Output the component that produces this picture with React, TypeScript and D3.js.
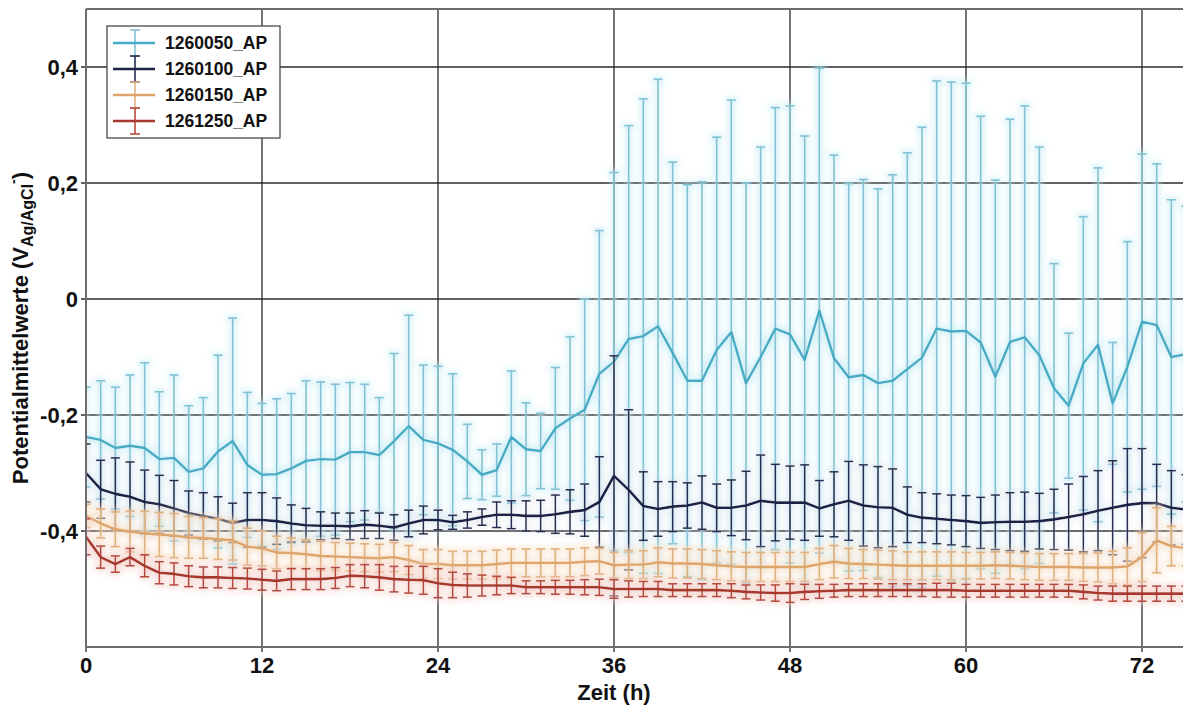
import React from 'react';
import * as d3 from 'd3';

// Hourly measurement times (h)
const hours = [
  0, 1, 2, 3, 4, 5, 6, 7, 8, 9, 10, 11, 12, 13, 14, 15, 16, 17, 18, 19,
  20, 21, 22, 23, 24, 25, 26, 27, 28, 29, 30, 31, 32, 33, 34, 35, 36, 37, 38, 39,
  40, 41, 42, 43, 44, 45, 46, 47, 48, 49, 50, 51, 52, 53, 54, 55, 56, 57, 58, 59,
  60, 61, 62, 63, 64, 65, 66, 67, 68, 69, 70, 71, 72, 73, 74, 75,
];

// 1260050_AP: mean potential and standard deviation (V)
const mean1260050 = [
  -0.238, -0.243, -0.257, -0.253, -0.257, -0.276, -0.274, -0.298, -0.292, -0.263,
  -0.245, -0.286, -0.303, -0.302, -0.292, -0.279, -0.276, -0.277, -0.264, -0.264,
  -0.269, -0.245, -0.219, -0.243, -0.249, -0.26, -0.28, -0.303, -0.295, -0.238,
  -0.259, -0.262, -0.223, -0.206, -0.191, -0.129, -0.108, -0.069, -0.064, -0.047,
  -0.093, -0.141, -0.141, -0.088, -0.057, -0.145, -0.1, -0.051, -0.061, -0.105,
  -0.02, -0.102, -0.135, -0.131, -0.145, -0.141, -0.121, -0.101, -0.051, -0.056,
  -0.055, -0.075, -0.134, -0.074, -0.066, -0.097, -0.154, -0.184, -0.111, -0.079,
  -0.18, -0.117, -0.039, -0.045, -0.1, -0.095,
];
const sd1260050 = [
  0.086, 0.102, 0.105, 0.122, 0.147, 0.116, 0.143, 0.114, 0.122, 0.166,
  0.212, 0.125, 0.123, 0.13, 0.129, 0.138, 0.133, 0.13, 0.12, 0.117,
  0.099, 0.151, 0.191, 0.129, 0.133, 0.131, 0.064, 0.043, 0.045, 0.114,
  0.08, 0.065, 0.105, 0.141, 0.191, 0.247, 0.326, 0.368, 0.409, 0.426,
  0.329, 0.338, 0.343, 0.367, 0.4, 0.345, 0.362, 0.381, 0.394, 0.386,
  0.418, 0.35, 0.334, 0.337, 0.335, 0.355, 0.373, 0.397, 0.427, 0.43,
  0.427, 0.39, 0.339, 0.384, 0.399, 0.359, 0.215, 0.125, 0.253, 0.305,
  0.105, 0.216, 0.289, 0.278, 0.271, 0.255,
];

// 1260100_AP
const mean1260100 = [
  -0.3, -0.328, -0.336, -0.341, -0.35, -0.354, -0.361, -0.369, -0.374, -0.379,
  -0.386, -0.381, -0.381, -0.383, -0.387, -0.39, -0.391, -0.391, -0.392, -0.389,
  -0.391, -0.394, -0.387, -0.381, -0.381, -0.385, -0.381, -0.376, -0.372, -0.372,
  -0.374, -0.374, -0.371, -0.367, -0.364, -0.35, -0.305, -0.329, -0.357, -0.362,
  -0.358, -0.356, -0.351, -0.36, -0.36, -0.356, -0.348, -0.351, -0.351, -0.351,
  -0.361, -0.354, -0.348, -0.356, -0.359, -0.36, -0.372, -0.377, -0.379, -0.381,
  -0.383, -0.386, -0.385, -0.384, -0.384, -0.383, -0.38, -0.376, -0.371, -0.365,
  -0.36, -0.355, -0.352, -0.352, -0.36, -0.363,
];
const sd1260100 = [
  0.05, 0.05, 0.062, 0.06, 0.055, 0.05, 0.048, 0.038, 0.04, 0.038,
  0.034, 0.047, 0.047, 0.04, 0.032, 0.029, 0.024, 0.022, 0.023, 0.024,
  0.022, 0.022, 0.023, 0.024, 0.017, 0.012, 0.014, 0.014, 0.022, 0.024,
  0.026, 0.027, 0.033, 0.038, 0.045, 0.078, 0.207, 0.138, 0.059, 0.047,
  0.043, 0.039, 0.046, 0.041, 0.048, 0.059, 0.079, 0.066, 0.063, 0.065,
  0.048, 0.056, 0.068, 0.07, 0.07, 0.067, 0.048, 0.043, 0.043, 0.043,
  0.044, 0.044, 0.047, 0.05, 0.051, 0.048, 0.052, 0.057, 0.065, 0.069,
  0.081, 0.097, 0.094, 0.067, 0.064, 0.06,
];

// 1260150_AP
const mean1260150 = [
  -0.374, -0.387, -0.397, -0.401, -0.404, -0.406, -0.408, -0.411, -0.412, -0.414,
  -0.416, -0.427, -0.43, -0.437, -0.438, -0.44, -0.443, -0.444, -0.445, -0.446,
  -0.447, -0.445, -0.45, -0.457, -0.457, -0.459, -0.459, -0.459, -0.457, -0.455,
  -0.455, -0.455, -0.455, -0.455, -0.453, -0.452, -0.459, -0.458, -0.458, -0.454,
  -0.456, -0.456, -0.457, -0.459, -0.461, -0.462, -0.462, -0.462, -0.462, -0.462,
  -0.457, -0.453, -0.456, -0.457, -0.458, -0.459, -0.46, -0.46, -0.46, -0.46,
  -0.46, -0.46, -0.459, -0.46, -0.461, -0.462, -0.462, -0.462, -0.463, -0.463,
  -0.463, -0.461, -0.445, -0.416, -0.426, -0.43,
];
const sd1260150 = [
  0.02, 0.025, 0.03, 0.035, 0.038, 0.038, 0.038, 0.036, 0.035, 0.035,
  0.034, 0.032, 0.03, 0.028, 0.026, 0.025, 0.025, 0.024, 0.024, 0.024,
  0.024, 0.025, 0.025, 0.025, 0.025, 0.024, 0.024, 0.024, 0.024, 0.024,
  0.024, 0.024, 0.024, 0.024, 0.024, 0.022, 0.022, 0.024, 0.024, 0.025,
  0.025, 0.025, 0.025, 0.025, 0.025, 0.025, 0.025, 0.025, 0.025, 0.025,
  0.027, 0.028, 0.026, 0.025, 0.025, 0.025, 0.024, 0.024, 0.024, 0.024,
  0.023, 0.023, 0.023, 0.023, 0.023, 0.023, 0.023, 0.023, 0.024, 0.025,
  0.028, 0.032, 0.042, 0.056, 0.034, 0.03,
];

// 1261250_AP
const mean1261250 = [
  -0.41, -0.445, -0.457, -0.445, -0.46, -0.472, -0.474, -0.478, -0.48, -0.48,
  -0.481, -0.482, -0.484, -0.486, -0.483, -0.483, -0.483, -0.481, -0.477, -0.478,
  -0.48, -0.483, -0.484, -0.485, -0.49, -0.493, -0.494, -0.494, -0.494, -0.494,
  -0.497, -0.497, -0.497, -0.497, -0.497, -0.497, -0.5, -0.5, -0.5, -0.5,
  -0.502, -0.502, -0.502, -0.502, -0.503, -0.505, -0.506, -0.507, -0.507, -0.505,
  -0.504, -0.503, -0.502, -0.502, -0.502, -0.502, -0.502, -0.502, -0.502, -0.502,
  -0.503, -0.503, -0.503, -0.503, -0.503, -0.503, -0.503, -0.503, -0.505, -0.507,
  -0.508, -0.508, -0.508, -0.508, -0.508, -0.508,
];
const sd1261250 = [
  0.031, 0.019, 0.014, 0.015, 0.019, 0.019, 0.019, 0.018, 0.018, 0.018,
  0.018, 0.018, 0.018, 0.017, 0.018, 0.018, 0.018, 0.018, 0.019, 0.02,
  0.022, 0.022, 0.023, 0.024, 0.025, 0.022, 0.02, 0.018, 0.016, 0.014,
  0.011, 0.011, 0.012, 0.012, 0.013, 0.014, 0.016, 0.014, 0.013, 0.013,
  0.011, 0.011, 0.011, 0.011, 0.012, 0.012, 0.013, 0.014, 0.016, 0.013,
  0.012, 0.011, 0.011, 0.011, 0.011, 0.011, 0.011, 0.011, 0.012, 0.012,
  0.011, 0.011, 0.011, 0.011, 0.011, 0.011, 0.011, 0.011, 0.012, 0.012,
  0.013, 0.013, 0.013, 0.013, 0.013, 0.013,
];

const seriesNames = ['1260050_AP', '1260100_AP', '1260150_AP', '1261250_AP'];
const xTicks = [0, 12, 24, 36, 48, 60, 72];
const yTicks = [-0.4, -0.2, 0, 0.2, 0.4];

const series = [
  { name: seriesNames[0], mean: mean1260050, sd: sd1260050, line: '#46abc4', bar: '#80c2d4', lw: 2.4, glow: '#c4ecf5', glowOp: 0.75 },
  { name: seriesNames[1], mean: mean1260100, sd: sd1260100, line: '#1b2347', bar: '#262e52', lw: 2.6, glow: '#d0d5e4', glowOp: 0.35 },
  { name: seriesNames[2], mean: mean1260150, sd: sd1260150, line: '#dea468', bar: '#e0b07e', lw: 2.4, glow: '#f7dcc0', glowOp: 0.75 },
  { name: seriesNames[3], mean: mean1261250, sd: sd1261250, line: '#a8372c', bar: '#b64a3d', lw: 2.6, glow: '#f3cbc4', glowOp: 0.7 },
];

const W = 1183;
const H = 713;
const x = d3.scaleLinear().domain([0, 72]).range([86, 1142]);
const y = d3.scaleLinear().domain([-0.6, 0.5]).range([647, 9]);
const left = x(0);
const right = x(76);
const top = y(0.5);
const bottom = y(-0.6);
const fmt = (v: number) => (v === 0 ? '0' : d3.format('.1f')(v).replace('.', ',').replace('−', '-'));
const font = 'Liberation Sans, Arial, Helvetica, sans-serif';
const CAP = 4.5;

export default function App() {
  const line = d3
    .line<number>()
    .x((_, i) => x(hours[i]))
    .y((d) => y(d));

  return (
    <div style={{ position: 'absolute', left: 0, top: 0 }}>
      <svg width={W} height={H} style={{ display: 'block', background: '#fff' }} fontFamily={font}>
        <defs>
          <clipPath id="plot">
            <rect x={left} y={top} width={right - left} height={bottom - top} />
          </clipPath>
          {series.map((s, k) => (
            <filter key={k} id={`glow${k}`} x="-5%" y="-20%" width="110%" height="140%">
              <feMorphology in="SourceAlpha" operator="dilate" radius="2" result="d" />
              <feGaussianBlur in="d" stdDeviation="3" result="b" />
              <feFlood floodColor={s.glow} floodOpacity={s.glowOp} />
              <feComposite in2="b" operator="in" result="g" />
              <feMerge>
                <feMergeNode in="g" />
                <feMergeNode in="SourceGraphic" />
              </feMerge>
            </filter>
          ))}
        </defs>

        {/* grid */}
        <g stroke="#2a2a2a" strokeWidth={1.3}>
          {yTicks.map((t) => (
            <line key={`gy${t}`} x1={left - 5} x2={right} y1={y(t)} y2={y(t)} />
          ))}
          {xTicks.map((t) => (
            <line key={`gx${t}`} x1={x(t)} x2={x(t)} y1={top} y2={bottom + 5} />
          ))}
        </g>

        {/* series */}
        <g clipPath="url(#plot)">
          {series.map((s, k) => (
            <g key={s.name} filter={`url(#glow${k})`}>
              <g stroke={s.bar} strokeWidth={1.6} fill="none">
                {s.mean.map((m, i) => {
                  const cx = x(hours[i]);
                  const y1 = y(m + s.sd[i]);
                  const y2 = y(m - s.sd[i]);
                  return (
                    <g key={i}>
                      <line x1={cx} x2={cx} y1={y1} y2={y2} />
                      <line x1={cx - CAP} x2={cx + CAP} y1={y1} y2={y1} />
                      <line x1={cx - CAP} x2={cx + CAP} y1={y2} y2={y2} />
                    </g>
                  );
                })}
              </g>
              <path d={line(s.mean) || ''} fill="none" stroke={s.line} strokeWidth={s.lw} strokeLinejoin="round" />
            </g>
          ))}
        </g>

        {/* frame */}
        <g stroke="#6e6e6e" strokeWidth={2} fill="none">
          <line x1={left} x2={right} y1={top} y2={top} />
          <line x1={left} x2={right} y1={bottom} y2={bottom} />
          <line x1={left} x2={left} y1={top} y2={bottom} />
        </g>

        {/* axis labels */}
        <g fontWeight="bold" fontSize={22} fill="#111">
          {yTicks.map((t) => (
            <text key={`ly${t}`} x={left - 8} y={y(t)} dy="0.35em" textAnchor="end">
              {fmt(t)}
            </text>
          ))}
          {xTicks.map((t) => (
            <text key={`lx${t}`} x={x(t)} y={bottom + 26} textAnchor="middle">
              {t}
            </text>
          ))}
        </g>
        <text x={x(36)} y={bottom + 53} textAnchor="middle" fontWeight="bold" fontSize={22} fill="#111">
          Zeit (h)
        </text>
        <text transform={`translate(28,${(top + bottom) / 2}) rotate(-90)`} textAnchor="middle" fontWeight="bold" fontSize={22} fill="#111">
          Potentialmittelwerte (V
          <tspan fontSize={16} dy={5}>Ag/AgCl</tspan>
          <tspan fontSize={14} dy={-15}>-</tspan>
          <tspan dy={10}>)</tspan>
        </text>

        {/* legend */}
        <g>
          <rect x={107} y={26} width={173} height={112} fill="#fff" stroke="#4a4a4a" strokeWidth={1.3} />
          {series.map((s, k) => {
            const ly = 43 + k * 26;
            return (
              <g key={s.name}>
                <g stroke={s.bar} strokeWidth={1.6}>
                  <line x1={135} x2={135} y1={ly - 13} y2={ly + 13} />
                  <line x1={130} x2={140} y1={ly - 13} y2={ly - 13} />
                  <line x1={130} x2={140} y1={ly + 13} y2={ly + 13} />
                </g>
                <line x1={113} x2={155} y1={ly} y2={ly} stroke={s.line} strokeWidth={s.lw} />
                <text x={165} y={ly} dy="0.35em" fontWeight="bold" fontSize={17.5} fill="#111">
                  {s.name}
                </text>
              </g>
            );
          })}
        </g>
      </svg>
    </div>
  );
}
